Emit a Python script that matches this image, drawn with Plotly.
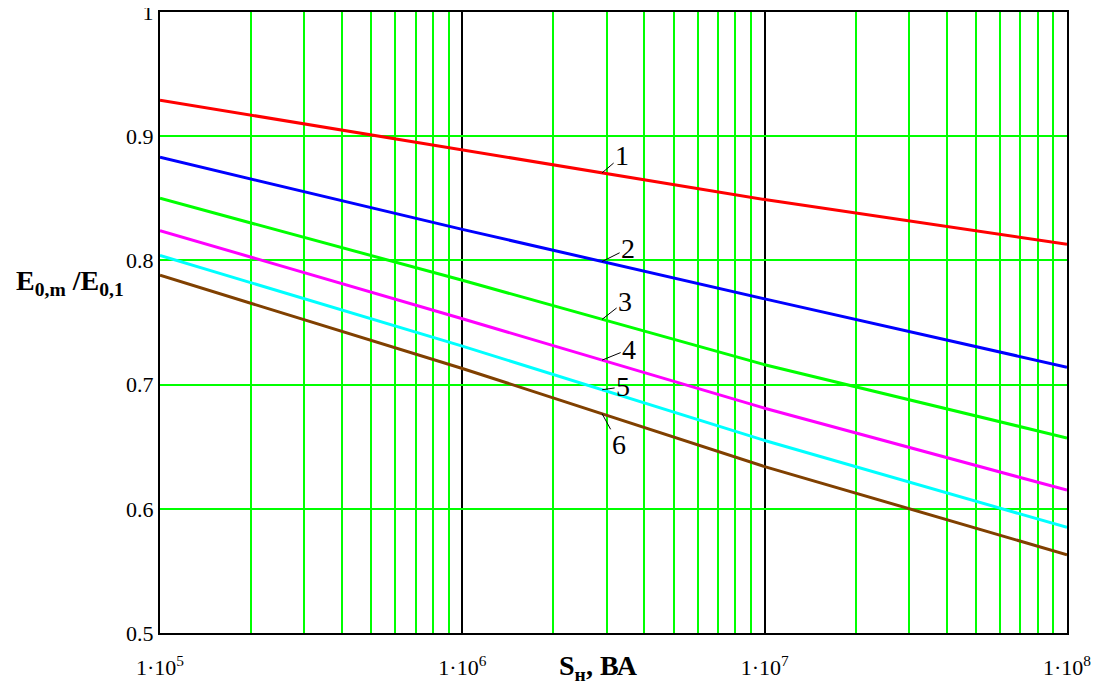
import numpy as np
import plotly.graph_objects as go

# ---- data ----
s_values = [1e5, 1e6, 1e7, 1e8]
curve_1 = [0.929, 0.889, 0.849, 0.813]
curve_2 = [0.883, 0.825, 0.769, 0.714]
curve_3 = [0.850, 0.784, 0.716, 0.657]
curve_4 = [0.824, 0.753, 0.681, 0.615]
curve_5 = [0.804, 0.731, 0.655, 0.585]
curve_6 = [0.788, 0.713, 0.634, 0.563]
curve_names = ["1", "2", "3", "4", "5", "6"]
x_tick_vals = [1e5, 1e6, 1e7, 1e8]
x_tick_text = ["1·10<sup>5</sup>", "1·10<sup>6</sup>", "1·10<sup>7</sup>", "1·10<sup>8</sup>"]
y_tick_vals = [0.5, 0.6, 0.7, 0.8, 0.9, 1.0]
y_tick_text = ["0.5", "0.6", "0.7", "0.8", "0.9", "1"]

curves = [curve_1, curve_2, curve_3, curve_4, curve_5, curve_6]
colors = ["#ff0000", "#0000ff", "#00ff00", "#ff00ff", "#00ffff", "#804000"]
FONT = "Liberation Serif"

fig = go.Figure()
for name, ys, c in zip(curve_names, curves, colors):
    fig.add_trace(go.Scatter(x=s_values, y=ys, mode="lines", name=name,
                             line=dict(color=c, width=3), showlegend=False))

# curve labels with leader lines
label_x = 2.9e6
offsets = [(20, -17), (26, -13), (23, -18), (27, -11), (21, -3), (17, 31)]
for name, ys, (ax, ay) in zip(curve_names, curves, offsets):
    yv = float(np.interp(np.log10(label_x), np.log10(s_values), ys))
    fig.add_annotation(x=np.log10(label_x), y=yv, xref="x", yref="y", text=name,
                       showarrow=True, arrowhead=0, arrowwidth=1, arrowcolor="black",
                       ax=ax, ay=ay, standoff=0,
                       font=dict(family=FONT, size=28, color="black"))

minor_vals = [k * 10 ** e for e in (5, 6, 7) for k in range(2, 10)]

fig.update_xaxes(type="log", range=[5, 8], tickvals=x_tick_vals, ticktext=x_tick_text,
                 showgrid=True, gridcolor="black", gridwidth=1.5,
                 minor=dict(tickvals=minor_vals, showgrid=True, gridcolor="#00ff00",
                            gridwidth=1.5, ticks=""),
                 ticks="outside", ticklen=14, tickcolor="rgba(0,0,0,0)",
                 showline=True, linecolor="black", linewidth=2, mirror=True,
                 zeroline=False, automargin=False, ticklabeloverflow="allow",
                 tickfont=dict(family=FONT, size=22, color="black"))
fig.update_yaxes(range=[0.5, 1.0], tickvals=y_tick_vals, ticktext=y_tick_text,
                 showgrid=True, gridcolor="#00ff00", gridwidth=1.5,
                 showline=True, linecolor="black", linewidth=2, mirror=True,
                 zeroline=False, ticks="", automargin=False, ticklabeloverflow="allow",
                 tickfont=dict(family=FONT, size=22, color="black"))

# axis titles
fig.add_annotation(xref="paper", yref="paper", x=-0.099, y=0.565,
                   xanchor="center", yanchor="middle",
                   text="<b>E<sub>0,m</sub> /E<sub>0,1</sub></b>", showarrow=False,
                   font=dict(family=FONT, size=28, color="black"))
fig.add_annotation(xref="paper", yref="paper", x=0.483, y=-0.055,
                   xanchor="center", yanchor="middle",
                   text="<b>S<sub>н</sub>, ВА</b>", showarrow=False,
                   font=dict(family=FONT, size=28, color="black"))

# page body has an 8px default margin: shrink the figure so it fills the window
fig.update_layout(width=1092, height=680, margin=dict(l=152, r=33, t=4, b=55),
                  paper_bgcolor="white", plot_bgcolor="white",
                  font=dict(family=FONT, color="black"))

fig.write_html("out.html")
